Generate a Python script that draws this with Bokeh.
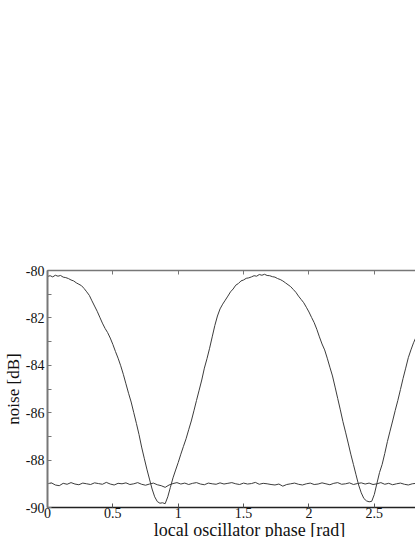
import numpy as np
from bokeh.plotting import figure
from bokeh.models import LinearAxis, FixedTicker
from bokeh.embed import file_html
from bokeh.resources import INLINE

# ---- data ----
upper_step = 0.02
upper_noise = [
    -80.25, -80.22, -80.27, -80.20, -80.24, -80.21, -80.28, -80.30, -80.34, -80.40,
    -80.44, -80.52, -80.58, -80.64, -80.76, -80.90, -81.05, -81.28, -81.50, -81.72,
    -81.97, -82.22, -82.44, -82.62, -82.85, -83.12, -83.42, -83.70, -84.02, -84.38,
    -84.78, -85.18, -85.55, -86.00, -86.45, -86.92, -87.45, -87.92, -88.38, -88.80,
    -89.22, -89.55, -89.75, -89.82, -89.80, -89.84, -89.55, -89.15, -88.75, -88.42,
    -88.10, -87.75, -87.42, -87.10, -86.72, -86.35, -85.92, -85.48, -85.05, -84.62,
    -84.12, -83.72, -83.28, -82.80, -82.32, -81.92, -81.62, -81.42, -81.25, -81.08,
    -80.90, -80.78, -80.62, -80.55, -80.44, -80.40, -80.33, -80.31, -80.27, -80.22,
    -80.24, -80.17, -80.20, -80.16, -80.21, -80.22, -80.26, -80.28, -80.34, -80.38,
    -80.44, -80.52, -80.60, -80.68, -80.80, -80.92, -81.08, -81.22, -81.36, -81.55,
    -81.75, -81.98, -82.20, -82.48, -82.80, -83.10, -83.35, -83.70, -84.08, -84.45,
    -84.92, -85.40, -85.88, -86.38, -86.82, -87.28, -87.75, -88.18, -88.62, -89.05,
    -89.38, -89.62, -89.72, -89.76, -89.74, -89.45, -88.98, -88.52, -88.18, -87.72,
    -87.22, -86.78, -86.35, -85.90, -85.48, -85.02, -84.55, -84.12, -83.68, -83.35,
    -83.05, -82.80,
]
lower_step = 0.03
lower_noise = [
    -89.00, -88.96, -89.05, -89.08, -88.98, -89.02, -88.95, -89.01, -89.04, -88.97,
    -89.00, -89.03, -88.96, -88.99, -89.02, -88.94, -89.01, -89.05, -88.98, -89.00,
    -88.96, -89.03, -89.00, -88.95, -89.02, -89.06, -89.01, -88.97, -89.04, -89.08,
    -89.15, -89.05, -88.99, -88.95, -89.01, -88.97, -89.03, -88.98, -88.95, -89.01,
    -89.04, -88.97, -89.00, -89.02, -88.96, -89.01, -88.98, -88.95, -89.00, -89.03,
    -88.97, -89.01, -88.99, -88.94, -89.02, -88.98, -89.00, -89.03, -89.05, -89.01,
    -89.10, -89.03, -89.00, -88.97, -89.02, -89.05, -89.00, -88.97, -89.03, -89.01,
    -88.96, -89.00, -89.04, -88.98, -88.95, -89.02, -89.00, -88.96, -89.03, -88.99,
    -88.96, -89.01, -88.97, -89.03, -89.00, -88.95, -89.02, -88.98, -89.04, -89.00,
    -88.97, -89.02, -89.05, -89.00, -88.98,
]
upper_phase = [round(i * upper_step, 3) for i in range(len(upper_noise))]
lower_phase = [round(i * lower_step, 3) for i in range(len(lower_noise))]

x_tick_values = [0, 0.5, 1, 1.5, 2, 2.5]
x_tick_labels = ["0", "0.5", "1", "1.5", "2", "2.5"]
y_tick_values = [-90, -88, -86, -84, -82, -80]
y_tick_labels = ["-90", "-88", "-86", "-84", "-82", "-80"]
y_minor_values = [-89, -87, -85, -83, -81]

x_title = "local oscillator phase [rad]"
y_title = "noise [dB]"

FONT = "Liberation Serif"

p = figure(width=415, height=542, x_range=(0, 2.815), y_range=(-90, -80),
           output_backend="svg", toolbar_location=None,
           min_border_left=47, min_border_right=0, min_border_top=270,
           min_border_bottom=35)
p.outline_line_color = None
p.xgrid.visible = False
p.ygrid.visible = False
p.background_fill_color = "white"
p.border_fill_color = "white"

p.line(upper_phase, upper_noise, line_color="#3c3c3c", line_width=1)
p.line(lower_phase, lower_noise, line_color="#3c3c3c", line_width=1)

# bottom axis
xa = p.xaxis[0]
xa.ticker = FixedTicker(ticks=x_tick_values, minor_ticks=[])
xa.major_label_overrides = {v: s for v, s in zip(x_tick_values, x_tick_labels)}
xa.major_tick_in = 4
xa.major_tick_out = 0
xa.minor_tick_in = 0
xa.minor_tick_out = 0
xa.major_label_standoff = 0
xa.major_label_text_font = FONT
xa.major_label_text_font_style = "normal"
xa.major_label_text_font_size = "14px"
xa.major_label_text_color = "#111111"
xa.axis_line_color = "#222222"
xa.axis_line_width = 1.5
xa.major_tick_line_color = "#555555"
# leading no-break spaces shift the centred title to where the reference has it
xa.axis_label = "\u00a0" * 8 + x_title
xa.axis_label_text_font = FONT
xa.axis_label_text_font_size = "18px"
xa.axis_label_text_font_style = "normal"
xa.axis_label_text_color = "#111111"
xa.axis_label_standoff = -1

# top axis (ticks only)
ta = LinearAxis(ticker=FixedTicker(ticks=x_tick_values, minor_ticks=[]))
ta.major_tick_in = 4
ta.major_tick_out = 0
ta.minor_tick_in = 0
ta.minor_tick_out = 0
ta.major_label_text_color = None
ta.major_label_text_font_size = "1px"
ta.axis_line_color = "#777777"
ta.axis_line_width = 1.5
ta.major_tick_line_color = "#777777"
p.add_layout(ta, "above")

# left axis
ya = p.yaxis[0]
ya.ticker = FixedTicker(ticks=y_tick_values, minor_ticks=y_minor_values)
ya.major_label_overrides = {v: s for v, s in zip(y_tick_values, y_tick_labels)}
ya.major_tick_in = 4
ya.major_tick_out = 0
ya.minor_tick_in = 4
ya.minor_tick_out = 0
ya.major_label_standoff = 3
ya.major_label_text_font = FONT
ya.major_label_text_font_style = "normal"
ya.major_label_text_font_size = "14px"
ya.major_label_text_color = "#111111"
ya.axis_line_color = "#777777"
ya.axis_line_width = 2
ya.major_tick_line_color = "#777777"
ya.minor_tick_line_color = "#777777"
ya.axis_label = y_title
ya.axis_label_text_font = FONT
ya.axis_label_text_font_size = "17px"
ya.axis_label_text_font_style = "normal"
ya.axis_label_text_color = "#111111"
ya.axis_label_standoff = 0

open("out.html", "w").write(file_html(p, INLINE))
